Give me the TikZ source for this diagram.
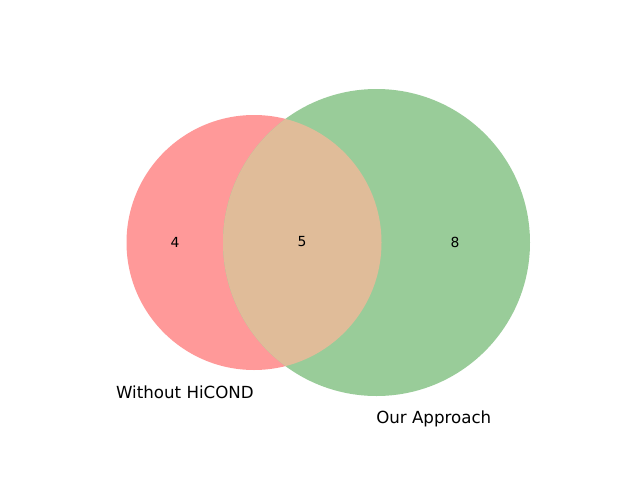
\documentclass[tikz,border=0pt]{standalone}
\usepackage{fontspec}
\setmainfont{DejaVu Sans}
\definecolor{cA}{RGB}{255,153,153}
\definecolor{cB}{RGB}{153,204,153}
\definecolor{cAB}{RGB}{224,188,153}
\begin{document}
\begin{tikzpicture}[x=0.72pt,y=-0.72pt,
  num/.style={font=\fontsize{10pt}{12pt}\selectfont,inner sep=0pt},
  setlab/.style={font=\fontsize{12pt}{14pt}\selectfont,inner sep=0pt}]
\useasboundingbox (0,0) rectangle (640,480);
\fill[white] (0,0) rectangle (640,480);
\coordinate (cA) at (254,242.5);
\coordinate (cB) at (376.5,242.5);
\fill[cA] (cA) circle[radius=127.5];
\fill[cB] (cB) circle[radius=153.5];
\begin{scope}
  \clip (cA) circle[radius=127.5];
  \fill[cAB] (cB) circle[radius=153.5];
\end{scope}
\node[num] (n4) at (175,242) {4};
\node[num] (n5) at (302,242) {5};
\node[num] (n8) at (455,242) {8};
\node[setlab,anchor=base east] (la) at (254,398) {Without HiCOND};
\node[setlab,anchor=base west] (lb) at (376,423.5) {Our Approach};
\end{tikzpicture}
\end{document}
